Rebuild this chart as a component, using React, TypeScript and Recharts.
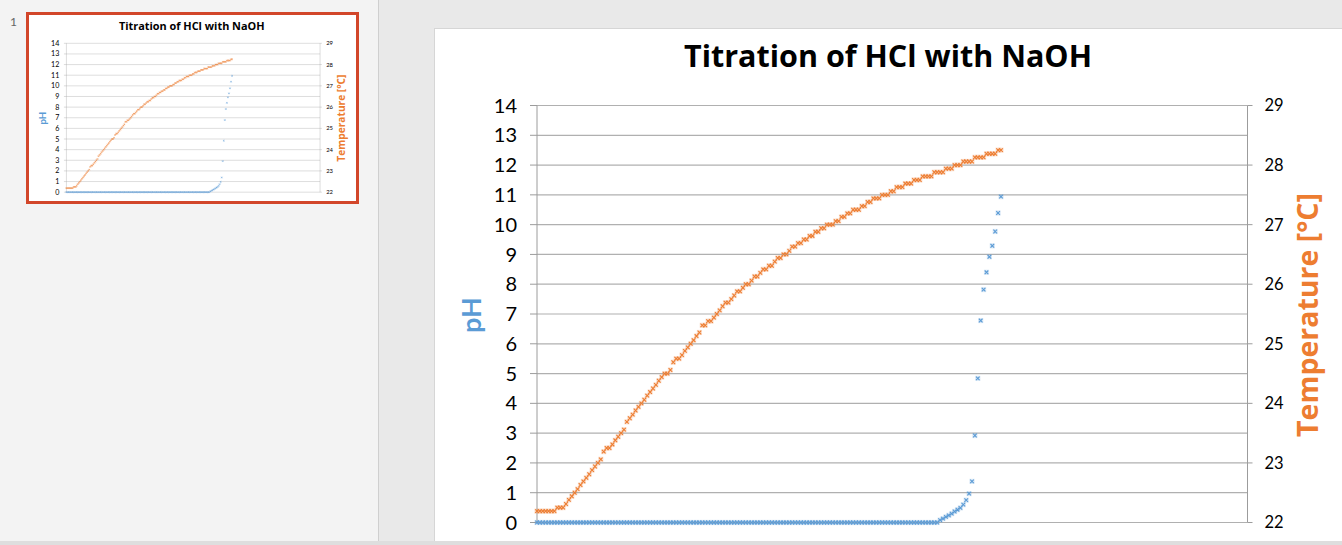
import { CartesianGrid, ComposedChart, Scatter, XAxis, YAxis } from "recharts";

const PH_TICKS = [0, 1, 2, 3, 4, 5, 6, 7, 8, 9, 10, 11, 12, 13, 14];
const TEMP_TICKS = [22, 23, 24, 25, 26, 27, 28, 29];
const SAMPLE_MAX = 245;

// temperature readings (°C), one per sample
const tempC = [
  22.19, 22.19, 22.19, 22.19, 22.19, 22.19, 22.19, 22.25, 22.25, 22.25,
  22.31, 22.38, 22.44, 22.5, 22.56, 22.63, 22.69, 22.75, 22.81, 22.88,
  22.94, 23.0, 23.06, 23.19, 23.25, 23.25, 23.31, 23.38, 23.44, 23.5,
  23.56, 23.69, 23.75, 23.81, 23.88, 23.94, 24.0, 24.06, 24.13, 24.19,
  24.25, 24.31, 24.38, 24.44, 24.5, 24.5, 24.56, 24.69, 24.75, 24.75,
  24.81, 24.88, 24.94, 25.0, 25.06, 25.13, 25.19, 25.31, 25.31, 25.38,
  25.38, 25.44, 25.5, 25.56, 25.63, 25.69, 25.69, 25.75, 25.81, 25.88,
  25.88, 25.94, 26.0, 26.0, 26.06, 26.13, 26.13, 26.19, 26.25, 26.25,
  26.31, 26.31, 26.38, 26.44, 26.44, 26.5, 26.5, 26.56, 26.63, 26.63,
  26.69, 26.69, 26.75, 26.75, 26.81, 26.81, 26.88, 26.88, 26.94, 26.94,
  27.0, 27.0, 27.0, 27.06, 27.06, 27.13, 27.13, 27.19, 27.19, 27.25,
  27.25, 27.25, 27.31, 27.31, 27.38, 27.38, 27.44, 27.44, 27.44, 27.5,
  27.5, 27.5, 27.56, 27.56, 27.63, 27.63, 27.63, 27.69, 27.69, 27.69,
  27.75, 27.75, 27.75, 27.81, 27.81, 27.81, 27.81, 27.88, 27.88, 27.88,
  27.88, 27.94, 27.94, 27.94, 28.0, 28.0, 28.0, 28.06, 28.06, 28.06,
  28.06, 28.13, 28.13, 28.13, 28.13, 28.19, 28.19, 28.19, 28.19, 28.25,
  28.25,
];

// pH readings, one per sample
const phValues = [
  0, 0, 0, 0, 0, 0, 0, 0, 0, 0,
  0, 0, 0, 0, 0, 0, 0, 0, 0, 0,
  0, 0, 0, 0, 0, 0, 0, 0, 0, 0,
  0, 0, 0, 0, 0, 0, 0, 0, 0, 0,
  0, 0, 0, 0, 0, 0, 0, 0, 0, 0,
  0, 0, 0, 0, 0, 0, 0, 0, 0, 0,
  0, 0, 0, 0, 0, 0, 0, 0, 0, 0,
  0, 0, 0, 0, 0, 0, 0, 0, 0, 0,
  0, 0, 0, 0, 0, 0, 0, 0, 0, 0,
  0, 0, 0, 0, 0, 0, 0, 0, 0, 0,
  0, 0, 0, 0, 0, 0, 0, 0, 0, 0,
  0, 0, 0, 0, 0, 0, 0, 0, 0, 0,
  0, 0, 0, 0, 0, 0, 0, 0, 0, 0,
  0, 0, 0, 0, 0, 0, 0, 0, 0, 0.08,
  0.13, 0.19, 0.24, 0.3, 0.37, 0.43, 0.49, 0.6, 0.75, 0.97,
  1.38, 2.92, 4.84, 6.78, 7.82, 8.4, 8.92, 9.29, 9.77, 10.39,
  10.94,
];

const rows = tempC.map((temp, i) => ({ sample: i, temp, ph: phValues[i] }));

const BLUE = "#5B9BD5";
const ORANGE = "#ED7D31";
const GRID = "#b0b0b0";
const AXIS = "#9c9c9c";
const FONT = "Lato, 'Open Sans', sans-serif";
const TITLE_FONT = "'Open Sans', Lato, sans-serif";

function crossMarker(color: string) {
  return (props: any) => {
    const { cx, cy } = props;
    if (cx == null || cy == null) return <g />;
    const r = 1.8;
    return (
      <g>
        <rect x={cx - 2.6} y={cy - 2.6} width={5.2} height={5.2} fill={color} fillOpacity={0.22} />
        <path
          d={`M${cx - r},${cy - r}L${cx + r},${cy + r}M${cx - r},${cy + r}L${cx + r},${cy - r}`}
          stroke={color}
          strokeWidth={1.1}
        />
      </g>
    );
  };
}

function Slide() {
  return (
    <div style={{ position: "relative", width: 916, height: 512, background: "#fff", fontFamily: FONT }}>
      <div style={{ position: "absolute", left: 0, top: 0 }}>
        <ComposedChart width={916} height={512} data={rows} margin={{ top: 76.5, right: 43.5, bottom: 18.5, left: 42 }}>
          <CartesianGrid yAxisId="ph" vertical={false} stroke={GRID} strokeWidth={1.2} />
          <XAxis dataKey="sample" type="number" domain={[0, SAMPLE_MAX]} hide />
          <YAxis
            yAxisId="ph"
            domain={[0, 14]}
            ticks={PH_TICKS}
            interval={0}
            width={60}
            tickSize={7}
            tickMargin={13}
            axisLine={{ stroke: AXIS }}
            tickLine={{ stroke: AXIS }}
            tick={{ fill: "#000", fontSize: 20, fontFamily: FONT }}
          />
          <YAxis
            yAxisId="temp"
            orientation="right"
            domain={[22, 29]}
            ticks={TEMP_TICKS}
            interval={0}
            width={60}
            tickSize={5}
            tickMargin={12}
            axisLine={{ stroke: AXIS }}
            tickLine={{ stroke: AXIS }}
            tick={{ fill: "#000", fontSize: 16.5, fontFamily: FONT }}
          />
          <Scatter data={rows} dataKey="temp" yAxisId="temp" fill={ORANGE} shape={crossMarker(ORANGE)} isAnimationActive={false} />
          <Scatter data={rows} dataKey="ph" yAxisId="ph" fill={BLUE} shape={crossMarker(BLUE)} isAnimationActive={false} />
        </ComposedChart>
      </div>
      <div
        style={{
          position: "absolute", left: 453, top: 12, transform: "translateX(-50%)", fontFamily: TITLE_FONT,
          fontSize: 30.5, fontWeight: 700, lineHeight: "28px", whiteSpace: "nowrap", color: "#000",
        }}
      >
        Titration of HCl with NaOH
      </div>
      <div
        style={{
          position: "absolute", left: 34.5, top: 286, transform: "translate(-50%, -50%) rotate(-90deg)",
          fontSize: 27, fontWeight: 700, lineHeight: "27px", whiteSpace: "nowrap", color: BLUE,
        }}
      >
        pH
      </div>
      <div
        style={{
          position: "absolute", left: 872, top: 286, transform: "translate(-50%, -50%) rotate(-90deg)",
          fontFamily: TITLE_FONT, fontSize: 28.5, fontWeight: 700, lineHeight: "28px", whiteSpace: "nowrap", color: ORANGE,
        }}
      >
        Temperature [°C]
      </div>
    </div>
  );
}

export default function App() {
  return (
    <div style={{ position: "fixed", left: 0, top: 0, width: 1342, height: 545, overflow: "hidden", background: "#e9e9e9" }}>
      <div style={{ position: "absolute", left: 0, top: 0, width: 378, height: 545, background: "#f3f3f3" }} />
      <div style={{ position: "absolute", left: 378, top: 0, width: 1, height: 545, background: "#cfcfcf" }} />
      <div style={{ position: "absolute", left: 10, top: 14, fontSize: 12, color: "#666", fontFamily: FONT }}>1</div>
      <div
        style={{
          position: "absolute", left: 26, top: 12, width: 327, height: 186,
          border: "3px solid #D2462A", background: "#fff", overflow: "hidden",
        }}
      >
        <div style={{ position: "absolute", left: 1.3, top: 1.4, transform: "scale(0.357)", transformOrigin: "0 0" }}>
          <Slide />
        </div>
      </div>
      <div style={{ position: "absolute", left: 435, top: 29, boxShadow: "0 0 0 1px #d6d6d6" }}>
        <Slide />
      </div>
      <div style={{ position: "absolute", left: 0, top: 541, width: 1342, height: 4, background: "#dedede" }} />
    </div>
  );
}
